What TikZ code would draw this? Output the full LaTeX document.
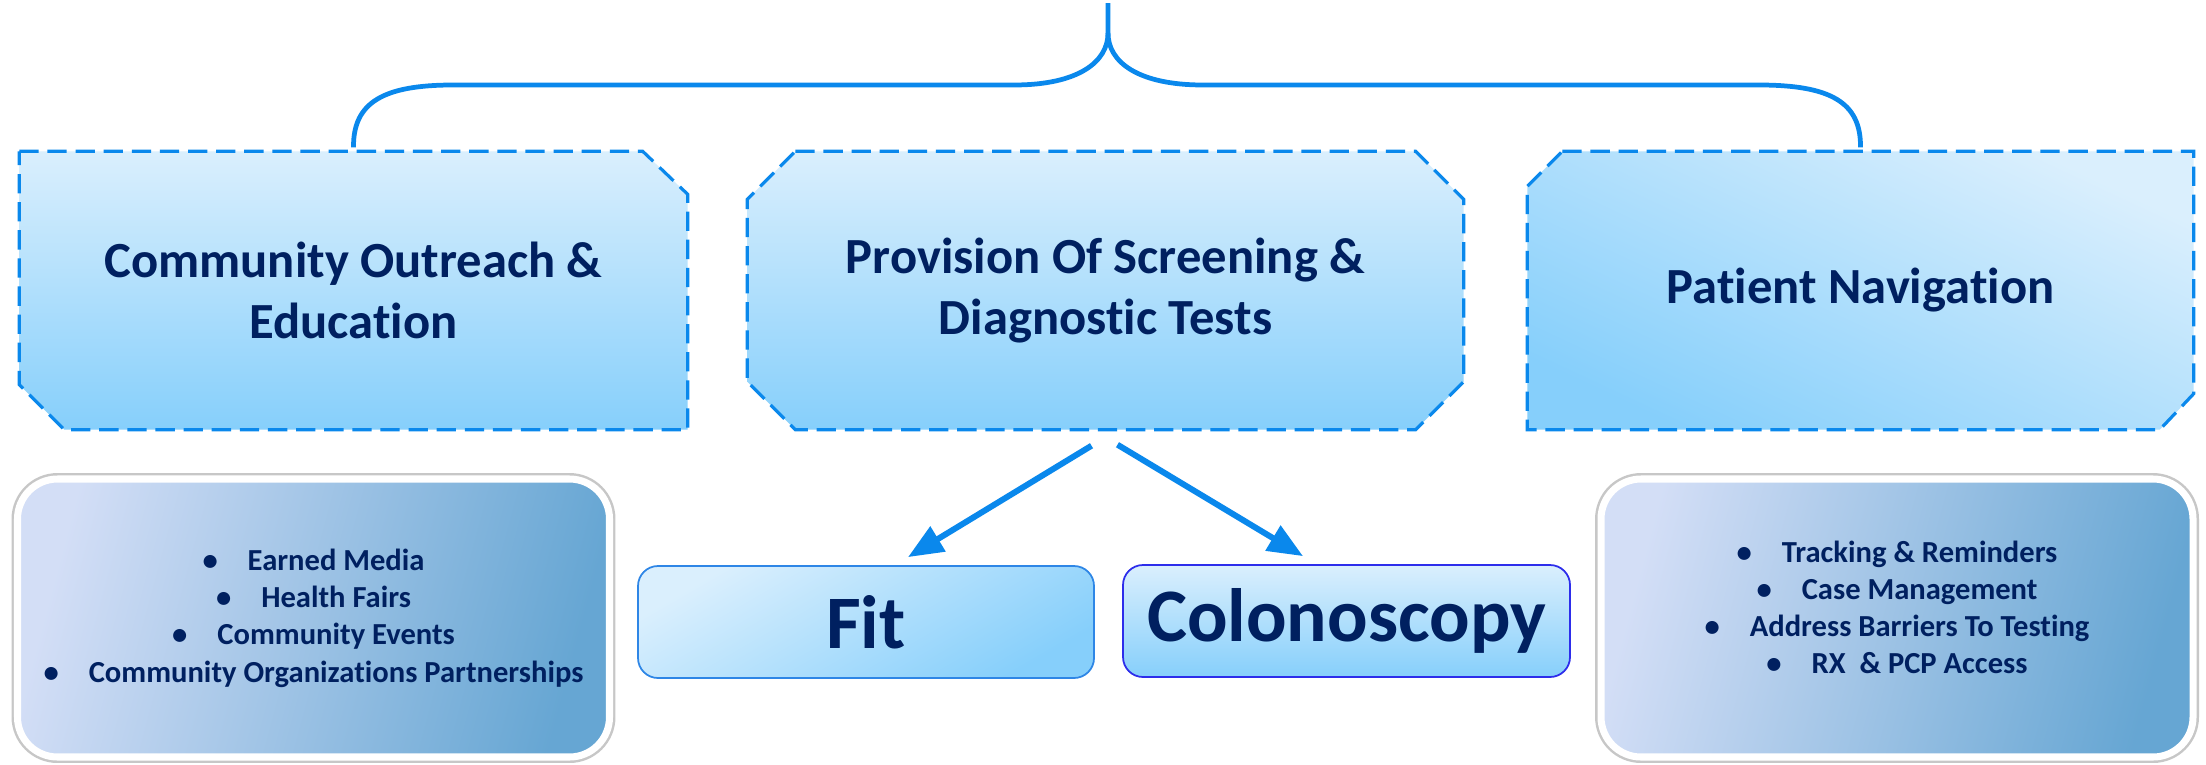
\documentclass[tikz,border=0pt]{standalone}
\usepackage{fontspec}
\setmainfont{Carlito}[Ligatures={NoCommon,NoContextual}, Contextuals={NoAlternate}]
\usepackage{tikz}
\usetikzlibrary{arrows.meta, positioning, calc, backgrounds}
\definecolor{NavyText}{HTML}{002060}
\definecolor{BraceBlue}{HTML}{0A88EC}
\definecolor{SkyLight}{HTML}{DAEFFD}
\definecolor{SkyDeep}{HTML}{86CFFB}
\definecolor{LavLight}{HTML}{D3DEF6}
\definecolor{LavMid}{HTML}{B4C8F3}
\definecolor{LavDeep}{HTML}{66A6D3}
\definecolor{FitEdge}{HTML}{2E86E6}
\definecolor{ColonEdge}{HTML}{2D2DEB}
\tikzset{
    topic/.style={
        minimum width=#1,
        minimum height=2.77cm,
        text=NavyText,
        font=\fontsize{14.4}{17.5}\selectfont\bfseries,
        align=center,
        inner sep=0pt
    },
    topic/.default=6.7cm,
    dashedge/.style={
        draw=BraceBlue,
        line width=0.9pt,
        dash pattern=on 5.5pt off 2.5pt
    },
    testbox/.style={
        draw=#1,
        line width=0.5pt,
        rounded corners=0.2cm,
        minimum height=1.12cm,
        text=NavyText,
        font=\fontsize{21.5}{24}\selectfont\bfseries,
        inner sep=2pt
    },
    testbox/.default=FitEdge,
    listbox/.style={
        draw=white,
        line width=2pt,
        preaction={draw=black!22, line width=3.4pt},
        rounded corners=0.4cm,
        left color=LavLight,
        middle color=LavMid,
        right color=LavDeep,
        shading angle=75,
        minimum width=5.92cm,
        minimum height=2.78cm,
        text=NavyText,
        font=\fontsize{8.7}{10.6}\selectfont\bfseries,
        align=center
    },
    brace/.style={
        draw=BraceBlue,
        line width=1.35pt
    },
    arrow/.style={
        -{Triangle[length=10pt, width=8pt]},
        line width=1.7pt,
        BraceBlue
    }
}

\begin{document}
\begin{tikzpicture}
    \useasboundingbox (0,0) rectangle (22.06,7.64);

    % Top categories
    \node[topic=6.67cm] (outreach) at (3.535,4.735) {Community Outreach \&\\Education};
    \node[topic=7.15cm] (screening) at (11.055,4.735) {Provision Of Screening \&\\Diagnostic Tests};
    \node[topic=6.65cm] (navigation) at (18.605,4.735) {Patient Navigation};

    % Chamfered outlines behind the titles
    \begin{scope}[on background layer]
        \fill[white] (0,0) rectangle (22.06,7.64);
        \path[dashedge, top color=SkyLight, bottom color=SkyDeep]
            (outreach.north west) -- ([xshift=-0.45cm]outreach.north east)
            -- ([yshift=-0.43cm]outreach.north east) -- (outreach.south east)
            -- ([xshift=0.45cm]outreach.south west) -- ([yshift=0.45cm]outreach.south west) -- cycle;
        \path[dashedge, top color=SkyLight, bottom color=SkyDeep]
            ([xshift=0.48cm]screening.north west) -- ([xshift=-0.48cm]screening.north east)
            -- ([yshift=-0.48cm]screening.north east) -- ([yshift=0.48cm]screening.south east)
            -- ([xshift=-0.48cm]screening.south east) -- ([xshift=0.48cm]screening.south west)
            -- ([yshift=0.48cm]screening.south west) -- ([yshift=-0.48cm]screening.north west) -- cycle;
        \path[dashedge, top color=SkyLight, bottom color=SkyDeep, shading angle=-25]
            ([xshift=0.35cm]navigation.north west) -- (navigation.north east)
            -- ([yshift=0.36cm]navigation.south east) -- ([xshift=-0.34cm]navigation.south east)
            -- (navigation.south west) -- ([yshift=-0.35cm]navigation.north west) -- cycle;
    \end{scope}

    % Brace over the three categories
    \coordinate (tip) at (11.08,7.61);
    \draw[brace] ([yshift=0.04cm]outreach.north) .. controls (3.53,6.62) and (3.84,6.79) .. (4.53,6.79)
        -- (10.14,6.79) .. controls (10.78,6.79) and (11.08,7.02) .. (11.08,7.31) -- (tip);
    \draw[brace] (11.08,7.31) .. controls (11.08,7.02) and (11.38,6.79) .. (12.03,6.79)
        -- (17.59,6.79) .. controls (18.30,6.79) and (18.61,6.62) .. ([yshift=0.04cm]navigation.north);

    % Tests
    \node[testbox=FitEdge, minimum width=4.56cm, top color=SkyLight, bottom color=SkyDeep, shading angle=30] (fit) at (8.66,1.42) {Fit};
    \node[testbox=ColonEdge, minimum width=4.47cm, top color=SkyLight, bottom color=SkyDeep] (colonoscopy) at (13.465,1.43) {Colonoscopy};

    \draw[arrow] ([xshift=-0.14cm, yshift=-0.16cm]screening.south) -- ([xshift=0.42cm, yshift=0.08cm]fit.north);
    \draw[arrow] ([xshift=0.12cm, yshift=-0.15cm]screening.south) -- ([xshift=-0.435cm, yshift=0.08cm]colonoscopy.north);

    % Activity lists
    \node[listbox] (outreachlist) at (3.135,1.46) {
        \textbullet\hspace{0.3cm}Earned Media\\
        \textbullet\hspace{0.3cm}Health Fairs\\
        \textbullet\hspace{0.3cm}Community Events\\
        \textbullet\hspace{0.3cm}Community Organizations Partnerships
    };
    \node[listbox] (navigationlist) at (18.97,1.46) {
        \textbullet\hspace{0.3cm}Tracking \& Reminders\\
        \textbullet\hspace{0.3cm}Case Management\\
        \textbullet\hspace{0.3cm}Address Barriers To Testing\\
        \textbullet\hspace{0.3cm}RX~~\& PCP Access\\[-4.5pt]~
    };
\end{tikzpicture}
\end{document}
